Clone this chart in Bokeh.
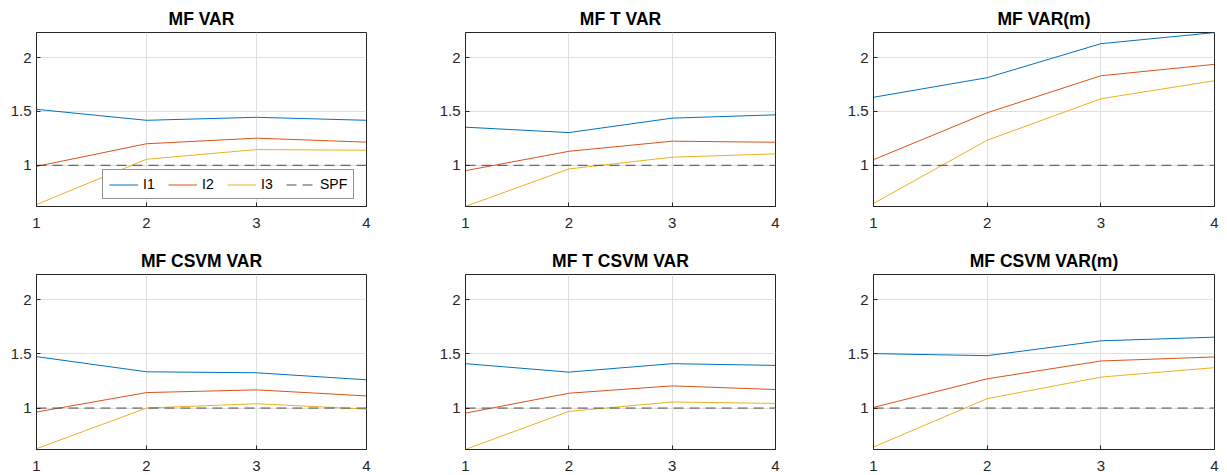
from bokeh.plotting import figure
from bokeh.models import Range1d, FixedTicker, NumeralTickFormatter, Legend, LegendItem
from bokeh.layouts import row, column
from bokeh.embed import file_html
from bokeh.resources import INLINE

# ---- data ----
x_vals = [1, 2, 3, 4]
x_ticks = [1, 2, 3, 4]
y_ticks = [1, 1.5, 2]
titles = ["MF VAR", "MF T VAR", "MF VAR(m)", "MF CSVM VAR", "MF T CSVM VAR", "MF CSVM VAR(m)"]
series_names = ["I1", "I2", "I3", "SPF"]

mf_var_i1 = [1.52, 1.418, 1.446, 1.418]
mf_var_i2 = [0.99, 1.20, 1.252, 1.215]
mf_var_i3 = [0.635, 1.056, 1.146, 1.14]

mf_t_var_i1 = [1.354, 1.304, 1.438, 1.469]
mf_t_var_i2 = [0.95, 1.13, 1.224, 1.214]
mf_t_var_i3 = [0.618, 0.966, 1.075, 1.106]

mf_var_m_i1 = [1.632, 1.814, 2.13, 2.233]
mf_var_m_i2 = [1.052, 1.488, 1.832, 1.938]
mf_var_m_i3 = [0.645, 1.233, 1.618, 1.786]

mf_csvm_var_i1 = [1.475, 1.335, 1.326, 1.261]
mf_csvm_var_i2 = [0.963, 1.143, 1.168, 1.112]
mf_csvm_var_i3 = [0.624, 1.0, 1.04, 0.99]

mf_t_csvm_var_i1 = [1.41, 1.332, 1.41, 1.394]
mf_t_csvm_var_i2 = [0.953, 1.137, 1.205, 1.171]
mf_t_csvm_var_i3 = [0.618, 0.969, 1.056, 1.043]

mf_csvm_var_m_i1 = [1.503, 1.484, 1.621, 1.655]
mf_csvm_var_m_i2 = [1.006, 1.27, 1.435, 1.472]
mf_csvm_var_m_i3 = [0.64, 1.087, 1.286, 1.373]

spf = [1, 1, 1, 1]

y_min, y_max = 0.617, 2.234

COLORS = ["#0072BD", "#D95319", "#EDB120"]
SPF_COLOR = "#4a4a4a"
AX = "#262626"
FONT = "Liberation Sans"

# layout geometry: (left, frame_w, right), (top, frame_h, bottom)
cols = [(36, 330, 54), (45, 310, 55), (43, 341, 13)]
rows_g = [(32, 174, 34), (34, 175, 26)]


def make(title, i1, i2, i3, cg, rg, legend=False):
    fl, fw, fr = cg
    ft, fh, fb = rg
    p = figure(frame_width=fw, frame_height=fh,
               min_border_left=fl, min_border_right=fr,
               min_border_top=ft, min_border_bottom=fb,
               x_range=Range1d(1, 4), y_range=Range1d(y_min, y_max),
               output_backend="svg", toolbar_location=None, title=title)
    p.background_fill_color = "white"
    p.border_fill_color = "white"
    p.outline_line_color = AX
    p.outline_line_width = 1
    p.title.text_font = FONT
    p.title.text_font_size = "17.5px"
    p.title.text_font_style = "bold"
    p.title.text_color = "black"
    p.title.align = "center"
    p.title.standoff = 7

    for ax, ticks in ((p.xaxis[0], x_ticks), (p.yaxis[0], y_ticks)):
        ax.ticker = FixedTicker(ticks=ticks)
        ax.formatter = NumeralTickFormatter(format="0.[0]")
        ax.major_tick_in = 4
        ax.major_tick_out = 0
        ax.minor_tick_line_color = None
        ax.axis_line_color = AX
        ax.major_tick_line_color = AX
        ax.major_label_text_font = FONT
        ax.major_label_text_font_size = "15px"
        ax.major_label_text_color = AX
    p.xaxis[0].major_label_standoff = 11
    p.yaxis[0].major_label_standoff = 5

    p.xgrid.ticker = FixedTicker(ticks=x_ticks)
    p.ygrid.ticker = FixedTicker(ticks=y_ticks)
    p.grid.grid_line_color = "#dfdfdf"
    p.grid.grid_line_width = 1

    r1 = p.line(x_vals, i1, line_color=COLORS[0], line_width=1)
    r2 = p.line(x_vals, i2, line_color=COLORS[1], line_width=1)
    r3 = p.line(x_vals, i3, line_color=COLORS[2], line_width=1)
    r4 = p.line(x_vals, spf, line_color=SPF_COLOR, line_width=1, line_dash="10 6")

    if legend:
        items = [LegendItem(label=n, renderers=[r]) for n, r in zip(series_names, [r1, r2, r3, r4])]
        lg = Legend(items=items, orientation="horizontal", location=(66, 7),
                    glyph_width=29, glyph_height=15, label_standoff=5, spacing=5,
                    padding=6, margin=0, border_line_color=AX, border_line_width=1,
                    label_text_font=FONT, label_text_font_size="14px", label_text_color="black",
                    background_fill_color="white", background_fill_alpha=1)
        p.add_layout(lg, "center")
    return p


f1 = make(titles[0], mf_var_i1, mf_var_i2, mf_var_i3, cols[0], rows_g[0], legend=True)
f2 = make(titles[1], mf_t_var_i1, mf_t_var_i2, mf_t_var_i3, cols[1], rows_g[0])
f3 = make(titles[2], mf_var_m_i1, mf_var_m_i2, mf_var_m_i3, cols[2], rows_g[0])
f4 = make(titles[3], mf_csvm_var_i1, mf_csvm_var_i2, mf_csvm_var_i3, cols[0], rows_g[1])
f5 = make(titles[4], mf_t_csvm_var_i1, mf_t_csvm_var_i2, mf_t_csvm_var_i3, cols[1], rows_g[1])
f6 = make(titles[5], mf_csvm_var_m_i1, mf_csvm_var_m_i2, mf_csvm_var_m_i3, cols[2], rows_g[1])

layout = column(row(f1, f2, f3, spacing=0), row(f4, f5, f6, spacing=0), spacing=0)

open("out.html", "w").write(file_html(layout, INLINE))
